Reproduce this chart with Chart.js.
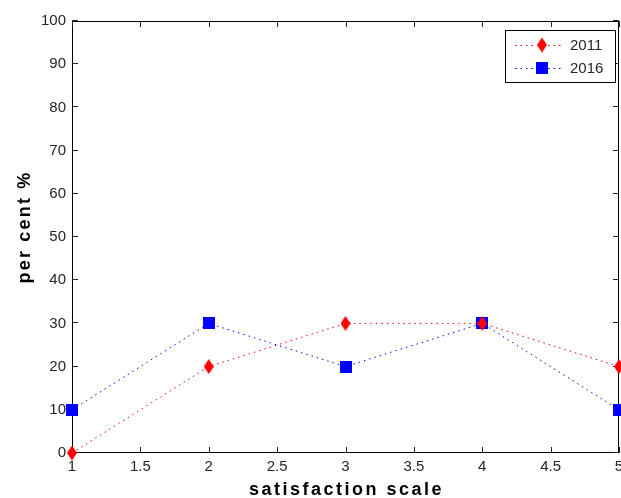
<!DOCTYPE html>
<html>
<head>
<meta charset="utf-8">
<script src="https://cdn.jsdelivr.net/npm/chart.js@4/dist/chart.umd.min.js"></script>
<style>
  html, body { margin: 0; padding: 0; background: #fff; }
  canvas { display: block; }
</style>
</head>
<body>
<canvas id="chart" width="621" height="498"></canvas>
<script>
// values
const scalePoints = [1, 2, 3, 4, 5];
const values2011 = [0, 20, 30, 30, 20];
const values2016 = [10, 30, 20, 30, 10];
const seriesNames = ["2011", "2016"];
const xTitle = "satisfaction scale";
const yTitle = "per cent %";

const FONT = "'Liberation Sans', Arial, Helvetica, sans-serif";
const TICK_COLOR = "#262626";

// matlab-ish markers drawn on small canvases
function makeDiamond(color) {
  const c = document.createElement("canvas");
  c.width = 10;
  c.height = 15;
  const ctx = c.getContext("2d");
  ctx.fillStyle = color;
  ctx.beginPath();
  ctx.moveTo(5, 0);
  ctx.lineTo(10, 7.5);
  ctx.lineTo(5, 15);
  ctx.lineTo(0, 7.5);
  ctx.closePath();
  ctx.fill();
  return c;
}

function makeSquare(color) {
  const c = document.createElement("canvas");
  c.width = 12;
  c.height = 12;
  const ctx = c.getContext("2d");
  ctx.fillStyle = color;
  ctx.fillRect(0, 0, 12, 12);
  return c;
}

const diamond = makeDiamond("#ff0000");
const square = makeSquare("#0000ff");

function toPoints(values) {
  return values.map((v, i) => ({ x: scalePoints[i], y: v }));
}

// box + inward ticks on all four sides
const framePlugin = {
  id: "frame",
  beforeDatasetsDraw(chart) {
    const { ctx, chartArea } = chart;
    const { left, right, top, bottom } = chartArea;
    const xs = chart.scales.x;
    const ys = chart.scales.y;
    ctx.save();
    ctx.strokeStyle = "#000";
    ctx.lineWidth = 1;
    ctx.beginPath();
    ctx.rect(left + 0.5, top + 0.5, right - left - 1, bottom - top - 1);
    ctx.stroke();
    ctx.strokeStyle = "#262626";
    ctx.beginPath();
    xs.ticks.forEach((t) => {
      const px = Math.round(xs.getPixelForValue(t.value)) + 0.5;
      ctx.moveTo(px, bottom);
      ctx.lineTo(px, bottom - 6);
      ctx.moveTo(px, top);
      ctx.lineTo(px, top + 6);
    });
    ys.ticks.forEach((t) => {
      const py = Math.round(ys.getPixelForValue(t.value)) - 0.5;
      ctx.moveTo(left, py);
      ctx.lineTo(left + 6, py);
      ctx.moveTo(right, py);
      ctx.lineTo(right - 6, py);
    });
    ctx.stroke();
    ctx.restore();
  },
  afterDraw(chart) {
    const { ctx } = chart;
    ctx.save();
    ctx.fillStyle = "#000";
    ctx.font = "bold 18px " + FONT;
    ctx.textBaseline = "alphabetic";
    ctx.textAlign = "center";
    ctx.letterSpacing = "2.5px";
    const ca = chart.chartArea;
    ctx.fillText(xTitle, (ca.left + ca.right) / 2 + 1, 495);
    ctx.letterSpacing = "2.2px";
    ctx.translate(30, (ca.top + ca.bottom) / 2 - 10);
    ctx.rotate(-Math.PI / 2);
    ctx.fillText(yTitle, 0, 0);
    ctx.restore();
  },
};

// legend box in the top right corner
const legendPlugin = {
  id: "boxLegend",
  afterDraw(chart) {
    const { ctx } = chart;
    const bx = 505.5, by = 30.5, bw = 110, bh = 52;
    ctx.save();
    ctx.fillStyle = "#fff";
    ctx.fillRect(bx, by, bw, bh);
    ctx.strokeStyle = "#000";
    ctx.lineWidth = 1;
    ctx.strokeRect(bx, by, bw, bh);
    const rows = [45, 68];
    chart.data.datasets.forEach((ds, i) => {
      const y = rows[i];
      ctx.strokeStyle = ds.borderColor;
      ctx.setLineDash(ds.borderDash);
      ctx.beginPath();
      ctx.moveTo(515, y + 0.5);
      ctx.lineTo(563, y + 0.5);
      ctx.stroke();
      ctx.setLineDash([]);
      const m = ds.pointStyle;
      ctx.drawImage(m, 542 - m.width / 2, y - m.height / 2);
      ctx.fillStyle = TICK_COLOR;
      ctx.font = "15px " + FONT;
      ctx.textBaseline = "middle";
      ctx.textAlign = "left";
      ctx.fillText(ds.label, 570, y + 1);
    });
    ctx.restore();
  },
};

new Chart(document.getElementById("chart"), {
  type: "line",
  data: {
    datasets: [
      {
        label: seriesNames[0],
        data: toPoints(values2011),
        borderColor: "#ff0000",
        backgroundColor: "#ff0000",
        borderWidth: 1,
        borderDash: [1.5, 4],
        pointStyle: diamond,
        pointRadius: 6,
        clip: false,
      },
      {
        label: seriesNames[1],
        data: toPoints(values2016),
        borderColor: "#0000ff",
        backgroundColor: "#0000ff",
        borderWidth: 1,
        borderDash: [1.5, 4],
        pointStyle: square,
        pointRadius: 6,
        clip: false,
      },
    ],
  },
  options: {
    responsive: false,
    animation: false,
    devicePixelRatio: 1,
    layout: { autoPadding: false, padding: { top: 21, right: 2, left: 0, bottom: 0 } },
    plugins: {
      legend: { display: false },
      tooltip: { enabled: false },
    },
    scales: {
      x: {
        type: "linear",
        min: 1,
        max: 5,
        grid: { display: false, drawTicks: false },
        border: { display: false },
        ticks: {
          stepSize: 0.5,
          color: TICK_COLOR,
          font: { family: FONT, size: 15 },
          padding: 5,
          maxRotation: 0,
          autoSkip: false,
          callback: (v) => String(v),
        },
        afterFit(scale) {
          scale.height = 45;
          scale.paddingLeft = 0;
          scale.paddingRight = 0;
        },
      },
      y: {
        min: 0,
        max: 100,
        grid: { display: false, drawTicks: false },
        border: { display: false },
        ticks: {
          stepSize: 10,
          color: TICK_COLOR,
          font: { family: FONT, size: 15 },
          padding: 6,
        },
        afterFit(scale) {
          scale.width = 72;
          scale.paddingTop = 0;
          scale.paddingBottom = 0;
        },
      },
    },
  },
  plugins: [framePlugin, legendPlugin],
});
</script>
</body>
</html>
